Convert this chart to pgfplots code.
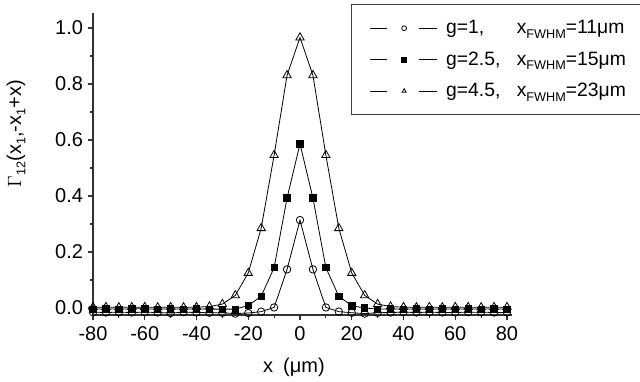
\documentclass[border=0pt]{standalone}
\usepackage{pgfplots}
\pgfplotsset{compat=1.18}
\usepackage{fontspec}
\setmainfont{Liberation Sans}
\newcommand{\sub}[1]{\raisebox{-3.2pt}{\fontsize{9.5}{10}\selectfont #1}}
\newcommand{\fwhm}{x\sub{FWHM}}
\begin{document}
\begin{tikzpicture}
\begin{axis}[
 name=ax,
 scale only axis, width=314pt, height=226.5pt,
 xmin=-80, xmax=81.8, ymin=-0.025, ymax=1.0536,
 clip=false,
 axis x line*=bottom, axis y line*=left,
 axis line style={line width=0.9pt, black!80},
 tick align=outside,
 xtick={-80,-60,-40,-20,0,20,40,60,80},
 minor xtick={-70,-50,-30,-10,10,30,50,70},
 ytick={0,0.2,0.4,0.6,0.8,1.0},
 minor ytick={0.1,0.3,0.5,0.7,0.9},
 major tick length=4pt, minor tick length=2.5pt,
 every tick/.style={line width=0.9pt, black!80},
 /pgf/number format/assume math mode=true,
 tick label style={font=\fontsize{15}{18}\selectfont},
 yticklabel style={/pgf/number format/.cd, fixed, fixed zerofill, precision=1},
 xticklabel style={yshift=-1pt},
 xlabel={x\,\,\,(μm)},
 xlabel style={font=\fontsize{15}{18}\selectfont, at={(axis description cs:0.48,-0.172)}, anchor=center},
 ylabel={$\Gamma$\sub{12}(x\sub{1},-x\sub{1}+x)},
 ylabel style={font=\fontsize{15}{18}\selectfont, at={(axis description cs:-0.184,0.60)}, anchor=center},
 legend style={at={(rel axis cs:0.616,1.03)}, anchor=north west,
   draw=black!75, line width=0.9pt, font=\fontsize{14.5}{17}\selectfont,
   inner xsep=11pt, inner ysep=10pt, row sep=8pt, cells={anchor=west}},
 legend cell align=left,
 legend image code/.code={
   \path[draw=none, fill=none] (-3pt,-2pt) rectangle (55pt,2pt);
   \draw[#1, mark=none] (0pt,0pt) -- (13pt,0pt);
   \draw[#1, mark=none] (37pt,0pt) -- (50pt,0pt);
   \draw[#1, mark size=1.8pt] plot coordinates {(25.5pt,0pt)};
 },
]
\addplot[black, line width=0.6pt, mark=o, mark size=2.8pt, mark options={fill=white, line width=0.6pt}] table {
x y
-80 -0.015
-75 -0.016
-70 -0.015
-65 -0.016
-60 -0.015
-55 -0.016
-50 -0.018
-45 -0.015
-40 -0.016
-35 -0.017
-30 -0.017
-25 -0.020
-20 -0.018
-15 -0.013
-10 0.002
-5 0.138
0 0.314
5 0.138
10 0.002
15 -0.013
20 -0.017
25 -0.020
30 -0.017
35 -0.016
40 -0.015
45 -0.016
50 -0.015
55 -0.016
60 -0.016
65 -0.015
70 -0.015
75 -0.016
80 -0.016
};
\addlegendentry{\makebox[53pt][l]{g=1,}\fwhm=11μm}
\addplot[black, line width=0.6pt, mark=square*, mark size=2.4pt, mark options={fill=black}] table {
x y
-80 -0.004
-75 -0.003
-70 -0.004
-65 -0.003
-60 -0.003
-55 -0.004
-50 -0.003
-45 -0.004
-40 -0.003
-35 -0.004
-30 -0.004
-25 -0.004
-20 0.009
-15 0.042
-10 0.144
-5 0.393
0 0.586
5 0.393
10 0.144
15 0.042
20 0.008
25 0.000
30 -0.004
35 -0.003
40 -0.004
45 -0.003
50 -0.004
55 -0.003
60 -0.004
65 -0.003
70 -0.004
75 -0.003
80 -0.004
};
\addlegendentry{\makebox[53pt][l]{g=2.5,}\fwhm=15μm}
\addplot[black, line width=0.6pt, mark=triangle, mark size=3.6pt, mark options={fill=white, line width=0.6pt}] table {
x y
-80 0.003
-75 0.003
-70 0.002
-65 0.003
-60 0.003
-55 0.002
-50 0.003
-45 0.002
-40 0.003
-35 0.005
-30 0.014
-25 0.045
-20 0.125
-15 0.285
-10 0.546
-5 0.831
0 0.966
5 0.831
10 0.546
15 0.285
20 0.125
25 0.045
30 0.014
35 0.005
40 0.003
45 0.002
50 0.003
55 0.002
60 0.003
65 0.003
70 0.002
75 0.003
80 0.003
};
\addlegendentry{\makebox[53pt][l]{g=4.5,}\fwhm=23μm}
\end{axis}
\pgfresetboundingbox
\useasboundingbox ([shift={(-69.75pt,-50.25pt)}]ax.south west) rectangle ([shift={(410.25pt,236.25pt)}]ax.south west);
\end{tikzpicture}
\end{document}
